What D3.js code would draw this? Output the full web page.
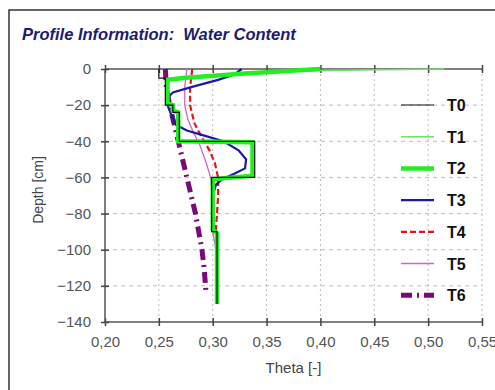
<!DOCTYPE html>
<html>
<head>
<meta charset="utf-8">
<script src="https://cdn.jsdelivr.net/npm/d3@7"></script>
<style>
  body { margin: 0; background: #fff; }
  svg { display: block; font-family: Arial, "Liberation Sans", sans-serif; }
</style>
</head>
<body>
<div class="svgContainer"></div>
<script>
// series names in legend order
const seriesNames = ['T0', 'T1', 'T2', 'T3', 'T4', 'T5', 'T6'];

// each profile: [theta, depth]
const t0 = [[0.25, 0], [0.25, -5], [0.256, -5], [0.256, -20], [0.263, -20], [0.263, -24], [0.269, -24],
  [0.269, -40], [0.339, -40], [0.339, -60], [0.299, -60], [0.299, -90], [0.304, -90], [0.304, -130]];
const t1 = [[0.515, 0], [0.40, -0.8], [0.32, -2.5], [0.27, -4.5], [0.258, -6], [0.258, -19], [0.263, -20],
  [0.263, -23], [0.268, -24], [0.268, -40], [0.336, -41], [0.336, -59], [0.30, -61], [0.30, -89],
  [0.304, -91], [0.304, -130]];
const t2 = [[0.40, 0], [0.33, -2.5], [0.275, -4.8], [0.258, -6], [0.258, -19], [0.263, -20], [0.263, -23],
  [0.268, -24], [0.268, -40], [0.337, -40.5], [0.337, -59], [0.30, -61], [0.30, -89], [0.304, -91],
  [0.304, -130]];
const t3 = [[0.327, 0], [0.32, -3], [0.305, -6], [0.28, -10], [0.263, -13], [0.258, -16], [0.258, -20],
  [0.262, -26], [0.266, -31], [0.276, -34], [0.293, -37], [0.31, -40], [0.324, -45], [0.331, -50],
  [0.33, -55], [0.32, -58], [0.309, -61], [0.303, -64], [0.30, -70], [0.30, -89], [0.304, -91],
  [0.304, -130]];
const t4 = [[0.281, 0], [0.279, -10], [0.279, -20], [0.283, -30], [0.29, -38], [0.297, -45], [0.302, -52],
  [0.305, -60], [0.305, -70], [0.304, -80], [0.303, -88], [0.304, -100], [0.304, -130]];
const t5 = [[0.276, 0], [0.274, -10], [0.274, -20], [0.277, -28], [0.282, -35], [0.288, -42], [0.294, -52],
  [0.298, -60], [0.30, -70], [0.30, -90], [0.303, -100], [0.303, -130]];
const t6 = [[0.256, 0], [0.257, -10], [0.26, -20], [0.264, -30], [0.268, -40], [0.272, -50], [0.276, -60],
  [0.28, -70], [0.284, -80], [0.287, -90], [0.29, -100], [0.292, -110], [0.294, -125]];

const xTicks = [0.20, 0.25, 0.30, 0.35, 0.40, 0.45, 0.50, 0.55];
const yTicks = [0, -20, -40, -60, -80, -100, -120, -140];

const width = 495;
const height = 390;
const plotLeft = 105, plotRight = 482, plotTop = 69, plotBottom = 322;

const styles = {
  T0: { color: '#111', w: 1.2, dash: null },
  T1: { color: '#6fe06f', w: 1.5, dash: null },
  T2: { color: '#22ee22', w: 4.5, dash: null },
  T3: { color: '#1a1aa0', w: 2.2, dash: null },
  T4: { color: '#ee1111', w: 2.2, dash: '6,3' },
  T5: { color: '#cc66cc', w: 1.3, dash: null },
  T6: { color: '#7a0a7a', w: 5, dash: '11,5,2,5' }
};
const data = { T0: t0, T1: t1, T2: t2, T3: t3, T4: t4, T5: t5, T6: t6 };

const svg = d3.select('.svgContainer').append('svg')
  .attr('width', width)
  .attr('height', height);

// outer frame
svg.append('path')
  .attr('d', 'M9,390 L9,10 L495,10')
  .attr('fill', 'none')
  .attr('stroke', '#333')
  .attr('stroke-width', 1.5);

svg.append('text')
  .attr('x', 22)
  .attr('y', 40)
  .attr('font-size', 16.5)
  .attr('font-weight', 'bold')
  .attr('font-style', 'italic')
  .attr('fill', '#1c1c6e')
  .style('white-space', 'pre')
  .text('Profile Information:  Water Content');

const scaleX = d3.scaleLinear().domain([0.20, 0.55]).range([plotLeft, plotRight]);
const scaleY = d3.scaleLinear().domain([0, -140]).range([plotTop, plotBottom]);

// grid
svg.append('g').selectAll('line')
  .data(xTicks.slice(1))
  .enter().append('line')
  .attr('x1', d => scaleX(d)).attr('x2', d => scaleX(d))
  .attr('y1', plotTop).attr('y2', plotBottom)
  .attr('stroke', '#bbb').attr('stroke-dasharray', '2,3');

svg.append('g').selectAll('line')
  .data(yTicks.slice(1, -1))
  .enter().append('line')
  .attr('x1', plotLeft).attr('x2', plotRight)
  .attr('y1', d => scaleY(d)).attr('y2', d => scaleY(d))
  .attr('stroke', '#bbb').attr('stroke-dasharray', '4,4');

// axes
const fmt = d => d3.format('.2f')(d).replace('.', ',');
const xAxis = d3.axisBottom(scaleX).tickValues(xTicks).tickFormat(fmt).tickSize(4).tickPadding(10);
const xAxisTop = d3.axisTop(scaleX).tickValues(xTicks).tickFormat('').tickSize(4);
const yAxis = d3.axisLeft(scaleY).tickValues(yTicks).tickSize(4).tickPadding(10);

function styleAxis(g) {
  g.select('.domain').attr('stroke', '#555').attr('stroke-width', 1.5);
  g.selectAll('.tick line').attr('stroke', '#444').attr('stroke-width', 1.5);
  g.selectAll('.tick text').attr('font-size', 15).attr('fill', '#555')
    .attr('font-family', 'Arial, "Liberation Sans", sans-serif');
}

const gx = svg.append('g').attr('transform', 'translate(0,' + plotBottom + ')').call(xAxis);
styleAxis(gx);
gx.selectAll('.tick line').attr('y1', -4);
gx.select('.domain').attr('d', 'M' + plotLeft + ',0H' + plotRight);

const gxt = svg.append('g').attr('transform', 'translate(0,' + plotTop + ')').call(xAxisTop);
styleAxis(gxt);
gxt.selectAll('.tick line').attr('y1', 4);
gxt.select('.domain').attr('d', 'M' + plotLeft + ',0H' + plotRight);

const gy = svg.append('g').attr('transform', 'translate(' + plotLeft + ',0)').call(yAxis);
styleAxis(gy);
gy.selectAll('.tick line').attr('x1', 4);
gy.select('.domain').attr('d', 'M0,' + plotTop + 'V' + plotBottom);

svg.append('text')
  .attr('x', (plotLeft + plotRight) / 2)
  .attr('y', 373)
  .attr('text-anchor', 'middle')
  .attr('font-size', 15)
  .attr('fill', '#444')
  .text('Theta [-]');

svg.append('text')
  .attr('transform', 'translate(43,' + 190 + ') rotate(-90)')
  .attr('text-anchor', 'middle')
  .attr('font-size', 14)
  .attr('fill', '#444')
  .text('Depth [cm]');

// profiles
const line = d3.line().x(d => scaleX(d[0])).y(d => scaleY(d[1]));
const drawOrder = ['T6', 'T5', 'T4', 'T3', 'T1', 'T2', 'T0'];
const plot = svg.append('g');
drawOrder.forEach(name => {
  const s = styles[name];
  plot.append('path')
    .datum(data[name])
    .attr('d', line)
    .attr('fill', 'none')
    .attr('stroke', s.color)
    .attr('stroke-width', s.w)
    .attr('stroke-dasharray', s.dash);
});

// legend
const legend = svg.append('g');
seriesNames.forEach((name, i) => {
  const s = styles[name];
  const y = 105 + i * 31.7;
  legend.append('line')
    .attr('x1', 401).attr('x2', 434)
    .attr('y1', y).attr('y2', y)
    .attr('stroke', s.color)
    .attr('stroke-width', s.w)
    .attr('stroke-dasharray', s.dash);
  legend.append('text')
    .attr('x', 447)
    .attr('y', y + 6)
    .attr('font-size', 16)
    .attr('font-weight', 'bold')
    .attr('fill', '#111')
    .text(name);
});
</script>
</body>
</html>
